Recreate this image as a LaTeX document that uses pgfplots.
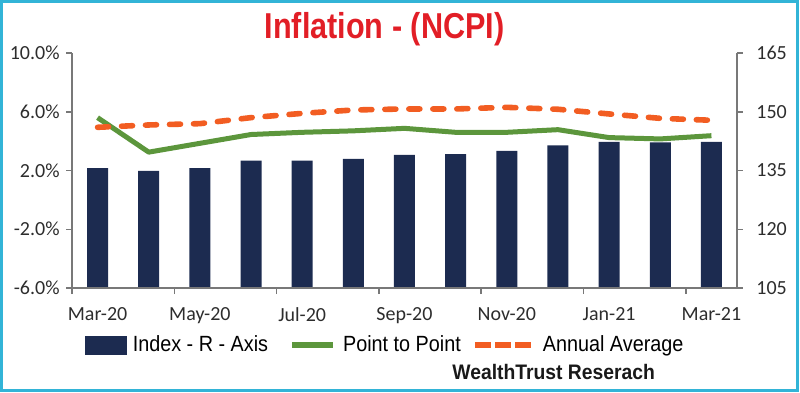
\documentclass[border=0pt]{standalone}
\usepackage{pgfplots}
\pgfplotsset{compat=1.18}
\usepackage{fontspec}
\setmainfont{Carlito}
\newfontfamily\condfont[FakeStretch=0.9]{Liberation Sans}
\newfontfamily\titlefont[FakeStretch=0.85]{Liberation Sans}
\newfontfamily\srcfont[FakeStretch=0.92]{Liberation Sans}
\definecolor{navy}{RGB}{28,43,80}
\definecolor{pgreen}{RGB}{92,150,60}
\definecolor{porange}{RGB}{242,93,34}
\definecolor{titlered}{RGB}{226,30,38}
\definecolor{bordercyan}{RGB}{50,180,215}
\definecolor{axisgray}{RGB}{120,120,120}
\definecolor{labelgray}{RGB}{45,45,45}
\begin{document}
\begin{tikzpicture}[x=0.5pt,y=0.5pt]
\useasboundingbox (0,0) rectangle (800,392);
\draw[bordercyan, line width=1.25pt] (1.5,1.5) rectangle (797.5,390.5);
\pgfplotsset{
  base/.style={
    at={(36pt,52pt)}, anchor=south west,
    scale only axis, width=332.5pt, height=117.5pt,
    xmin=-0.5, xmax=12.5,
    tick align=outside, major tick length=3pt,
    axis line style={draw=axisgray, line width=0.75pt},
    tick style={draw=axisgray, line width=0.75pt},
    ticklabel style={font=\fontsize{10}{12}\selectfont, text=labelgray},
    /pgf/number format/assume math mode=true,
  }
}
% Bars: index on the right axis
\begin{axis}[base,
  axis y line*=right, axis x line*=bottom,
  ymin=105, ymax=165, ytick={105,120,...,165},
  yticklabel style={anchor=west, inner xsep=0pt, xshift=6.5pt},
  xtick={-0.5,1.5,...,12.5}, xticklabels={},
  ybar, bar width=10.5pt,
]
\addplot[fill=navy, draw=none] coordinates {
(0,135.6) (1,134.9) (2,135.6) (3,137.5) (4,137.5) (5,138.0) (6,139.0)
(7,139.2) (8,140.0) (9,141.4) (10,142.3) (11,142.2) (12,142.3)};
\end{axis}
% Lines: inflation on the left axis
\begin{axis}[base,
  axis y line*=left, axis x line*=bottom,
  ymin=-6, ymax=10, ytick={-6,-2,...,10},
  yticklabel={\pgfmathprintnumber[fixed,fixed zerofill,precision=1]{\tick}\%},
  yticklabel style={anchor=east, inner xsep=0pt, xshift=-3pt},
  xtick={0,2,...,12},
  xticklabels={Mar-20,May-20,Jul-20,Sep-20,Nov-20,Jan-21,Mar-21},
  xticklabel style={anchor=north, inner ysep=0pt, yshift=-6.5pt},
  xtick style={draw=none},
  legend columns=3,
  legend style={at={(0.0195,-0.2426)}, anchor=west, draw=none, fill=none,
    inner sep=0pt,
    font=\condfont\fontsize{11}{13}\selectfont,
    nodes={inner xsep=0pt, inner ysep=1pt},
    /tikz/every odd column/.style={column sep=0pt},
    /tikz/every even column/.style={column sep=0pt}},
]
\addlegendimage{legend image code/.code={
  \fill[navy] (0pt,-4.5pt) rectangle (20.5pt,4.5pt);
  \path[draw=none, fill=none] (0pt,0pt) -- (23.5pt,0pt);}}
\addlegendentry{Index - R - Axis}
\addplot[pgreen, line width=2.5pt, line join=round,
  legend image code/.code={
  \draw[pgreen, line width=3pt] (0pt,0pt) -- (20.5pt,0pt);
  \path[draw=none, fill=none] (-12pt,0pt) -- (25.5pt,0pt);}] coordinates {
(0,5.6) (1,3.25) (2,3.85) (3,4.45) (4,4.6) (5,4.7) (6,4.87)
(7,4.6) (8,4.6) (9,4.78) (10,4.24) (11,4.15) (12,4.37)};
\addlegendentry{Point to Point}
\addplot[porange, line width=2.8pt, line cap=round,
  dash pattern=on 5.5pt off 6.5pt,
  legend image code/.code={
  \draw[porange, line width=3pt, line cap=butt, dash pattern=on 8pt off 2pt] (0pt,0pt) -- (28pt,0pt);
  \path[draw=none, fill=none] (-7pt,0pt) -- (34pt,0pt);}] coordinates {
(0,4.94) (1,5.1) (2,5.19) (3,5.6) (4,5.89) (5,6.12) (6,6.19)
(7,6.19) (8,6.3) (9,6.17) (10,5.85) (11,5.55) (12,5.42)};
\addlegendentry{Annual Average}
\end{axis}
\node[anchor=base, font=\titlefont\bfseries\fontsize{18}{20}\selectfont, text=titlered]
  at (384.5,353) {Inflation - (NCPI)};
\node[anchor=base west, inner sep=0pt, font=\srcfont\bfseries\fontsize{10.5}{12}\selectfont, text=black!90]
  at (452,12) {WealthTrust Reserach};
\end{tikzpicture}
\end{document}
